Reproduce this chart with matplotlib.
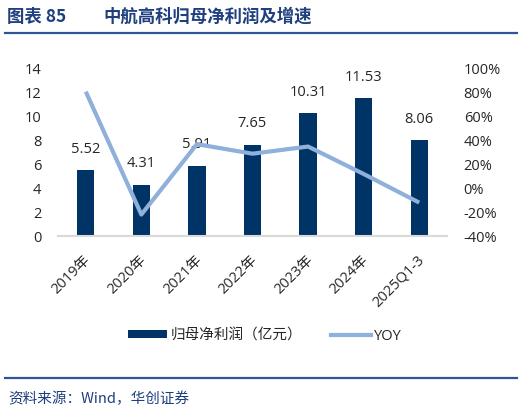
import matplotlib
matplotlib.use("Agg")
import matplotlib.pyplot as plt
from matplotlib.lines import Line2D
from matplotlib.patches import Patch
import matplotlib.transforms as mtrans

plt.rcParams['font.family'] = ['Open Sans', 'Noto Sans CJK SC', 'DejaVu Sans']

categories = ['2019年', '2020年', '2021年', '2022年', '2023年', '2024年', '2025Q1-3']
profit = [5.52, 4.31, 5.91, 7.65, 10.31, 11.53, 8.06]
yoy = [81, -22, 37, 29, 35, 12, -12]
left_ticks = [0, 2, 4, 6, 8, 10, 12, 14]
right_ticks = [-40, -20, 0, 20, 40, 60, 80, 100]

W, H = 524, 413
fig = plt.figure(figsize=(W / 100, H / 100), dpi=100)

def fx(px):
    return px / W

def fy(py):
    return 1 - py / H

bar_color = '#003366'
line_color = '#8EB0DA'
title_color = '#1F3F7F'
text_color = '#262626'

ax = fig.add_axes([fx(58), fy(236), (447 - 58) / W, (236 - 69) / H])
x = list(range(len(categories)))
ax.bar(x, profit, width=0.31, color=bar_color, zorder=2)
ax.set_xlim(-0.5, len(categories) - 0.5)
ax.set_ylim(0, 14)
ax.set_yticks(left_ticks)
ax.set_yticklabels([str(t) for t in left_ticks])
ax.tick_params(axis='y', length=0, pad=12, labelsize=10.5, labelcolor=text_color)
for s in ['top', 'right', 'left']:
    ax.spines[s].set_visible(False)
ax.spines['bottom'].set_color('#D9D9D9')
ax.spines['bottom'].set_linewidth(1.5)

ax.set_xticks(x)
ax.set_xticklabels(categories, rotation=45, ha='right', va='center',
                   rotation_mode='anchor', fontsize=10.5, color=text_color)
ax.tick_params(axis='x', length=0, pad=16)
offset = mtrans.ScaledTranslation(2 / 72, 0, fig.dpi_scale_trans)
for lab in ax.get_xticklabels():
    lab.set_transform(lab.get_transform() + offset)

for xi, v in zip(x, profit):
    ax.annotate(f'{v:.2f}', (xi, v), xytext=(0, 15), textcoords='offset points',
                ha='center', va='center', fontsize=10.5, color=text_color, zorder=5)

ax2 = ax.twinx()
ax2.plot(x, yoy, color=line_color, linewidth=3, solid_capstyle='butt', zorder=3)
ax2.set_ylim(-40, 100)
ax2.set_yticks(right_ticks)
ax2.set_yticklabels([f'{t}%' for t in right_ticks])
ax2.tick_params(axis='y', length=0, pad=12, labelsize=10.5, labelcolor=text_color)
for s in ['top', 'right', 'left', 'bottom']:
    ax2.spines[s].set_visible(False)

# legend
handles = [Patch(facecolor=bar_color, edgecolor='none'),
           Line2D([0], [0], color=line_color, linewidth=3)]
labels = ['归母净利润（亿元）', 'YOY']
fig.legend(handles, labels, loc='center', bbox_to_anchor=(fx(265), fy(336)),
           ncol=2, frameon=False, fontsize=10.5, handlelength=2.7,
           handleheight=0.5, handletextpad=0.25, columnspacing=2.0,
           labelcolor=text_color)

# title and rules
fig.text(fx(7), fy(17), '图表 85', fontsize=12.5, fontweight='bold',
         color=title_color, ha='left', va='center', family=['Noto Sans CJK SC'])
fig.text(fx(103), fy(17), '中航高科归母净利润及增速', fontsize=12.5, fontweight='bold',
         color=title_color, ha='left', va='center', family=['Noto Sans CJK SC'])
fig.add_artist(Line2D([fx(5), fx(517)], [fy(33), fy(33)], color='#2E5597', linewidth=1.6))
fig.add_artist(Line2D([fx(5), fx(517)], [fy(378), fy(378)], color='#2E5597', linewidth=1.6))
fig.text(fx(8), fy(399), '资料来源：Wind，华创证券', fontsize=10.5, color=title_color,
         ha='left', va='center', family=['Noto Sans CJK SC'], style='italic')

fig.savefig('out.png', dpi=100)
